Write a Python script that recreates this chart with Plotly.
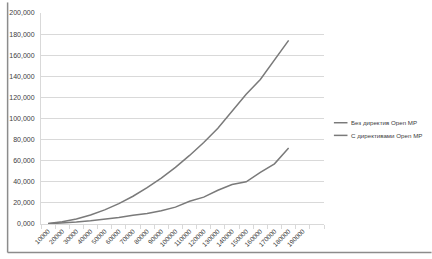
import plotly.graph_objects as go

categories = [str(v) for v in range(10000, 200000, 10000)]  # 10000..190000
extra_category = [" "]
series_names = ["Без директив Open MP", "С директивами Open MP"]
no_omp = [0.5, 2.2, 4.8, 8.6, 13.4, 19.3, 26.3, 34.4, 43.5, 53.7,
          65.0, 77.3, 90.8, 107.0, 123.0, 137.0, 156.0, 174.0]
with_omp = [0.2, 0.8, 1.8, 3.0, 4.5, 6.2, 8.3, 10.0, 12.5, 16.0,
            21.5, 25.5, 32.0, 37.5, 40.0, 49.0, 57.0, 72.0]
y_ticks = list(range(0, 201, 20))

line_color = "#7a7a7a"
grid_color = "#d9d9d9"
font = dict(family="Liberation Sans", size=7, color="#404040")

fig = go.Figure()
for name, vals in zip(series_names, [no_omp, with_omp]):
    fig.add_trace(go.Scatter(x=categories[:len(vals)], y=vals, mode="lines",
                             name=name, line=dict(color=line_color, width=1.5)))

fig.update_layout(
    width=432, height=259,
    margin=dict(l=36, r=108, t=9, b=35),
    paper_bgcolor="white", plot_bgcolor="white",
    showlegend=False, font=font, separators=", ",
)
fig.update_xaxes(type="category", categoryorder="array",
                 categoryarray=categories + extra_category,
                 range=[-0.5, len(categories) + len(extra_category) - 0.5],
                 tickson="boundaries", ticks="outside", ticklen=4, tickcolor=grid_color,
                 showline=True, linecolor=grid_color, showgrid=False,
                 tickangle=-45, tickfont=dict(size=6.5, color="#404040"))
fig.update_yaxes(range=[0, 200], tickvals=y_ticks, tickformat=".3f",
                 showgrid=True, gridcolor=grid_color, gridwidth=1,
                 showline=True, linecolor=grid_color, zeroline=False,
                 ticks="", ticklabelstandoff=4, tickfont=dict(size=7, color="#404040"))

# outer chart border (left & bottom visible)
fig.add_shape(type="line", xref="paper", yref="paper", x0=-0.118, x1=-0.118, y0=-0.135, y1=1.05,
              line=dict(color="#8c8c8c", width=1.5))
fig.add_shape(type="line", xref="paper", yref="paper", x0=-0.118, x1=1.38, y0=-0.135, y1=-0.135,
              line=dict(color="#8c8c8c", width=1.5))

# manual legend
leg_y = [0.48, 0.42]
for name, ly in zip(series_names, leg_y):
    fig.add_shape(type="line", xref="paper", yref="paper", x0=1.035, x1=1.083, y0=ly, y1=ly,
                  line=dict(color=line_color, width=1.5))
    fig.add_annotation(xref="paper", yref="paper", x=1.088, y=ly, text=name, showarrow=False,
                       xanchor="left", yanchor="middle", font=dict(size=6.2, color="#404040"))

fig.write_html("out.html")
